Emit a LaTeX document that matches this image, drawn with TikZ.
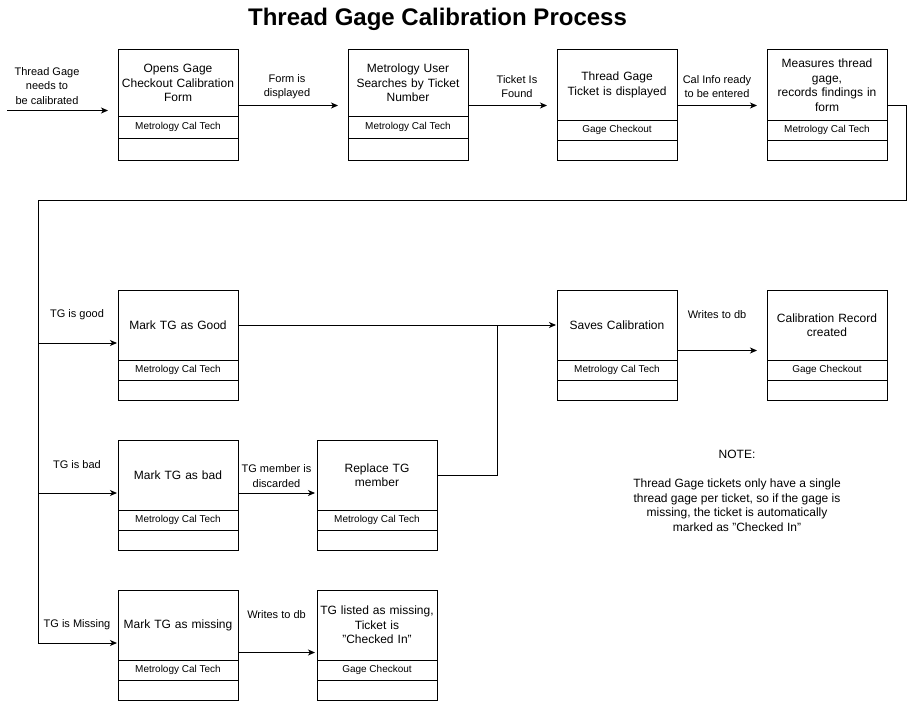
\documentclass[tikz,border=0pt]{standalone}
\usepackage{fontspec}
\setmainfont{Liberation Sans}
\usetikzlibrary{arrows.meta}
\tikzset{
 mainbox/.style={draw, line width=1pt, fill=white, outer sep=0pt, minimum width=120pt, inner sep=2pt, text width=116pt, align=center, font=\fontsize{12}{14.5}\selectfont},
 subbox/.style={draw, line width=1pt, fill=white, outer sep=0pt, minimum width=120pt, inner sep=0pt, font=\fontsize{10}{12}\selectfont},
 lbl/.style={align=center, font=\fontsize{11}{14.2}\selectfont, inner sep=0pt},
 notelbl/.style={align=center, font=\fontsize{12}{14.5}\selectfont, inner sep=0pt},
 arr/.style={draw, line width=1pt, -{Stealth[length=7pt,width=6pt,inset=2pt]}},
 conn/.style={draw, line width=1pt}
}
\newcommand{\procbox}[7]{%
  \node[mainbox, minimum height=#4pt] (#1) at (#2,#3) {#6};
  \node[subbox, minimum height=#5pt, anchor=north] (#1r) at (#1.south) {#7};
  \node[subbox, minimum height=#5pt, anchor=north] (#1e) at (#1r.south) {};
}
\begin{document}
\begin{tikzpicture}[x=1pt,y=-1pt]
\useasboundingbox (0,0) rectangle (916,701);
\node[font=\bfseries\fontsize{24}{28}\selectfont, inner sep=0pt] (title) at (437.5,19) {Thread Gage Calibration Process};

% top row
\procbox{b1}{178}{83}{66}{22}{Opens Gage\\Checkout Calibration\\Form}{Metrology Cal Tech}
\procbox{b2}{408}{83}{66}{22}{Metrology User\\Searches by Ticket\\Number}{Metrology Cal Tech}
\procbox{b3}{617}{85}{70}{20}{Thread Gage\\Ticket is displayed}{Gage Checkout}
\procbox{b4}{827}{85}{70}{20}{Measures thread\\gage,\\records findings in\\form}{Metrology Cal Tech}

% second row
\procbox{g1}{178}{325}{70}{20}{Mark TG as Good}{Metrology Cal Tech}
\procbox{s1}{617}{325}{70}{20}{Saves Calibration}{Metrology Cal Tech}
\procbox{cr}{827}{325}{70}{20}{Calibration Record\\created}{Gage Checkout}

% third row
\procbox{bd}{178}{475}{70}{20}{Mark TG as bad}{Metrology Cal Tech}
\procbox{rp}{377}{475}{70}{20}{Replace TG\\member}{Metrology Cal Tech}

% fourth row
\procbox{ms}{178}{625}{70}{20}{Mark TG as missing}{Metrology Cal Tech}
\procbox{tl}{377}{625}{70}{20}{TG listed as missing,\\Ticket is\\ "Checked In"}{Gage Checkout}

% coordinates
\coordinate (in0) at (7,110.5);
\coordinate (yr1) at (0,105.5);
\coordinate (turnR) at (906,200);
\coordinate (busL) at (38,200);
\coordinate (busB) at (38,643);
\coordinate (yg) at (0,343);
\coordinate (yb) at (0,493);
\coordinate (mj) at (497,325);
\coordinate (ys) at (0,350.5);
\coordinate (ym) at (0,652.5);

% connectors
\draw[arr, shorten >=10pt] (in0) -- (b1.west |- in0);
\draw[arr, shorten >=10pt] (b1.east |- yr1) -- (b2.west |- yr1);
\draw[arr, shorten >=10pt] (b2.east |- yr1) -- (b3.west |- yr1);
\draw[arr, shorten >=10pt] (b3.east |- yr1) -- (b4.west |- yr1);
\draw[arr, shorten >=1pt] (b4.east |- yr1) -| (turnR) -- (busL) -- (busB) -- (ms.west |- busB);
\draw[arr, shorten >=1pt] (busL |- yg) -- (g1.west |- yg);
\draw[arr, shorten >=1pt] (busL |- yb) -- (bd.west |- yb);
\draw[arr, shorten >=1pt] (g1.east) -- (s1.west);
\draw[conn] (rp.east) -| (mj);
\draw[arr, shorten >=10pt] (s1.east |- ys) -- (cr.west |- ys);
\draw[arr, shorten >=2pt] (bd.east |- yb) -- (rp.west |- yb);
\draw[arr, shorten >=2pt] (ms.east |- ym) -- (tl.west |- ym);

% labels
\node[lbl] (l0) at (47,86) {Thread Gage\\needs to\\be calibrated};
\node[lbl] (l1) at (287,86.5) {Form is\\displayed};
\node[lbl] (l2) at (517,86.5) {Ticket Is\\Found};
\node[lbl] (l3) at (717,86.5) {Cal Info ready\\to be entered};
\node[lbl] (l4) at (77,315) {TG is good};
\node[lbl] (l5) at (77,465) {TG is bad};
\node[lbl] (l6) at (77,625) {TG is Missing};
\node[lbl] (l7) at (717,315) {Writes to db};
\node[lbl] (l8) at (276.5,476) {TG member is\\discarded};
\node[lbl] (l9) at (276.5,615) {Writes to db};

\node[notelbl] (note) at (737,491) {NOTE:\\[14.5pt]Thread Gage tickets only have a single\\thread gage per ticket, so if the gage is\\missing, the ticket is automatically\\marked as "Checked In"};
\end{tikzpicture}
\end{document}
